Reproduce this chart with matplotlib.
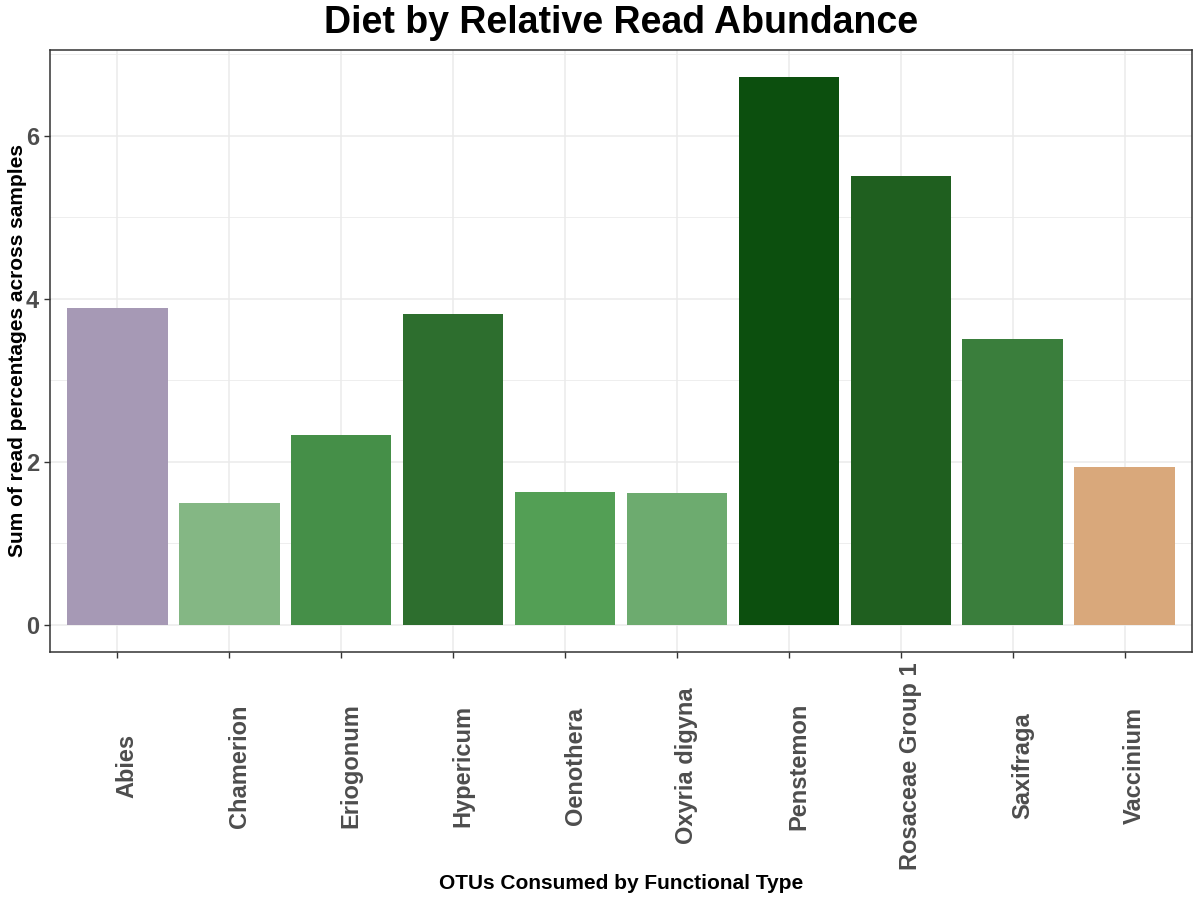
import matplotlib
matplotlib.use("Agg")
import matplotlib.pyplot as plt
from matplotlib.ticker import MultipleLocator
from matplotlib.transforms import ScaledTranslation

plt.rcParams['font.family'] = ['Liberation Sans', 'DejaVu Sans']

categories = ["Abies", "Chamerion", "Eriogonum", "Hypericum", "Oenothera",
              "Oxyria digyna", "Penstemon", "Rosaceae Group 1", "Saxifraga", "Vaccinium"]
values = [3.89, 1.49, 2.33, 3.81, 1.63, 1.62, 6.72, 5.51, 3.51, 1.93]
colors = ["#A699B5", "#84B784", "#458F48", "#2D6E2E", "#539F55",
          "#6DAB6F", "#0C4F0E", "#1F5F1F", "#3A7E3C", "#D9A87B"]

W, H = 1200, 900
fig = plt.figure(figsize=(12, 9), dpi=100)
ax_l, ax_r, ax_t, ax_b = 50, 1192, 49.5, 652
ax = fig.add_axes([ax_l / W, 1 - ax_b / H, (ax_r - ax_l) / W, (ax_b - ax_t) / H])

x = list(range(1, len(categories) + 1))
ax.bar(x, values, width=0.9, color=colors, zorder=2)

ymax = max(values)
ax.set_ylim(-0.05 * ymax, ymax * 1.05)
ax.set_xlim(0.4, len(categories) + 0.6)

ax.yaxis.set_major_locator(MultipleLocator(2))
ax.yaxis.set_minor_locator(MultipleLocator(1))
ax.grid(which='major', color='#EBEBEB', linewidth=1.1, zorder=0)
ax.grid(which='minor', axis='y', color='#EBEBEB', linewidth=0.6, zorder=0)
ax.set_axisbelow(True)

ax.set_xticks(x)
ax.set_xticklabels(categories, rotation=90, va='center', ha='center',
                   fontsize=17, fontweight='bold', color='#4D4D4D')
ax.tick_params(axis='x', length=4, width=1, color='#333333', pad=78)
shift = ScaledTranslation(10 / 100, 0, fig.dpi_scale_trans)
for lab in ax.get_xticklabels():
    lab.set_transform(lab.get_transform() + shift)
ax.tick_params(axis='y', which='major', length=4, width=1, color='#333333',
               labelsize=17, labelcolor='#4D4D4D', pad=4)
ax.tick_params(axis='y', which='minor', length=0)
for lab in ax.get_yticklabels():
    lab.set_fontweight('bold')

for s in ax.spines.values():
    s.set_color('#333333')
    s.set_linewidth(1.1)

ax.set_xlabel("OTUs Consumed by Functional Type", fontsize=15, fontweight='bold')
ax.xaxis.set_label_coords(0.5, -(874 - ax_b) / (ax_b - ax_t))
ax.set_ylabel("Sum of read percentages across samples", fontsize=15, fontweight='bold')
ax.yaxis.set_label_coords(-(ax_l - 27) / (ax_r - ax_l), 0.5)

fig.text((ax_l + ax_r) / 2 / W, 1 - 23 / H, "Diet by Relative Read Abundance",
         ha='center', va='center', fontsize=27, fontweight='bold')

fig.savefig("out.png", dpi=100)
